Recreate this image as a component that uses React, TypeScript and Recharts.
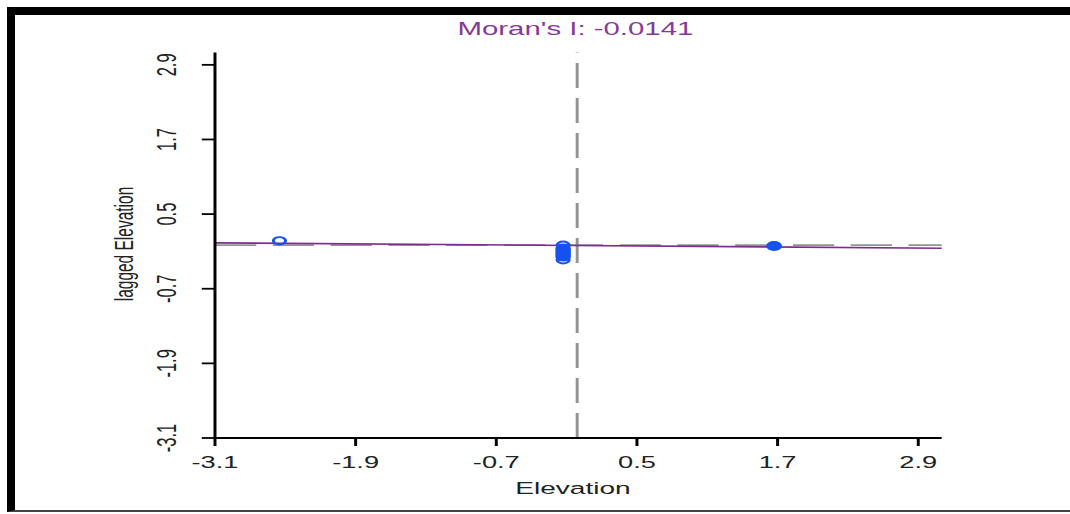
import React from "react";
import { ScatterChart, Scatter, XAxis, YAxis, ReferenceLine } from "recharts";

// tick labels (same sequence on both axes)
const xTicks = [-3.1, -1.9, -0.7, 0.5, 1.7, 2.9];
const yTicks = [-3.1, -1.9, -0.7, 0.5, 1.7, 2.9];
const axisDomain: [number, number] = [-3.1, 3.1];

// standardized elevation (x) and its spatial lag (y)
const elevation = [
  -2.55,
  -0.13, -0.13, -0.13, -0.13, -0.13, -0.13, -0.13,
  -0.13, -0.13, -0.13, -0.13, -0.13, -0.13,
  1.67, 1.67,
];
const laggedElevation = [
  0.07,
  0.0, -0.045, -0.06, -0.075, -0.09, -0.105, -0.12,
  -0.135, -0.15, -0.165, -0.18, -0.19, -0.235,
  -0.01, -0.015,
];
// influential observations are drawn as solid marks
const influential = [
  false,
  false, false, false, false, false, false, false,
  false, false, false, false, false, false,
  true, true,
];

// regression slope (= Moran's I) and intercept, plus the mean lines
const moransI = -0.0141;
const intercept = -0.005;
const meanX = -0.01;
const meanY = 0.0;

const points = elevation.map((x, i) => ({ x, y: laggedElevation[i], infl: influential[i] }));
const fitLine = axisDomain.map((x) => ({ x, y: intercept + moransI * x }));

// the original picture was stretched sideways, so draw narrow and scale
const W0 = 648;
const STRETCH = 1070 / W0;
const FONT = "'Liberation Sans', Arial, sans-serif";
const BLUE = "#1553f0";
const PURPLE = "#7d2b8e";

const PointShape = (props: any) => {
  const infl = props.payload && props.payload.infl;
  return (
    <circle
      cx={props.cx}
      cy={props.cy}
      r={infl ? 4.2 : 3.7}
      fill={infl ? BLUE : "none"}
      stroke={BLUE}
      strokeWidth={infl ? 1 : 1.8}
    />
  );
};

const XTick = (props: any) => {
  const { x, y, payload } = props;
  return (
    <text x={x} y={y + 20} textAnchor="middle" fontSize={16.5} fontFamily={FONT} fill="#222">
      {Number(payload.value).toFixed(1)}
    </text>
  );
};

const YTick = (props: any) => {
  const { x, y, payload } = props;
  const bx = x - 13.6;
  return (
    <text
      x={bx}
      y={y}
      transform={`rotate(-90, ${bx}, ${y})`}
      textAnchor="middle"
      fontSize={16.5}
      fontFamily={FONT}
      fill="#222"
    >
      {Number(payload.value).toFixed(1)}
    </text>
  );
};

export default function App() {
  return (
    <div style={{ position: "absolute", left: 0, top: 0, width: 1070, height: 514, overflow: "hidden", background: "#fff" }}>
      <div style={{ position: "absolute", left: 0, top: 0, width: W0, height: 514, transform: `scaleX(${STRETCH})`, transformOrigin: "0 0" }}>
        <ScatterChart width={W0} height={514} margin={{ top: 52.4, right: W0 - 570.3, bottom: 16, left: 130.2 - 60 }}>
          <XAxis
            type="number"
            dataKey="x"
            domain={axisDomain}
            ticks={xTicks}
            interval={0}
            allowDataOverflow
            height={60}
            tickSize={8}
            axisLine={{ stroke: "#000", strokeWidth: 1.8 }}
            tickLine={{ stroke: "#000", strokeWidth: 1.8 }}
            tick={<XTick />}
          />
          <YAxis
            type="number"
            dataKey="y"
            domain={axisDomain}
            ticks={yTicks}
            interval={0}
            allowDataOverflow
            width={60}
            tickSize={8}
            axisLine={{ stroke: "#000", strokeWidth: 1.8 }}
            tickLine={{ stroke: "#000", strokeWidth: 1.8 }}
            tick={<YTick />}
          />
          <Scatter data={points} shape={<PointShape />} isAnimationActive={false} />
          <ReferenceLine x={meanX} stroke="#939393" strokeWidth={1.8} strokeDasharray="25 10" />
          <ReferenceLine y={meanY} stroke="#939393" strokeWidth={1.8} strokeDasharray="25 10" />
          <ReferenceLine segment={fitLine} stroke={PURPLE} strokeWidth={1.7} />
          <text x={348.5} y={35} textAnchor="middle" fontSize={17.8} fontFamily={FONT} fill="#863a98">
            Moran's I: -0.0141
          </text>
          <text x={347} y={494} textAnchor="middle" fontSize={17} fontFamily={FONT} fill="#222">
            Elevation
          </text>
          <text
            x={80.6}
            y={244}
            transform="rotate(-90, 80.6, 244)"
            textAnchor="middle"
            fontSize={15.5}
            fontFamily={FONT}
            fill="#222"
          >
            lagged Elevation
          </text>
        </ScatterChart>
      </div>
      <div
        style={{
          position: "absolute",
          left: 7,
          top: 7,
          width: 1063,
          height: 505,
          boxSizing: "border-box",
          borderTop: "8px solid #000",
          borderLeft: "8px solid #000",
          borderBottom: "2px solid #444",
        }}
      />
    </div>
  );
}
